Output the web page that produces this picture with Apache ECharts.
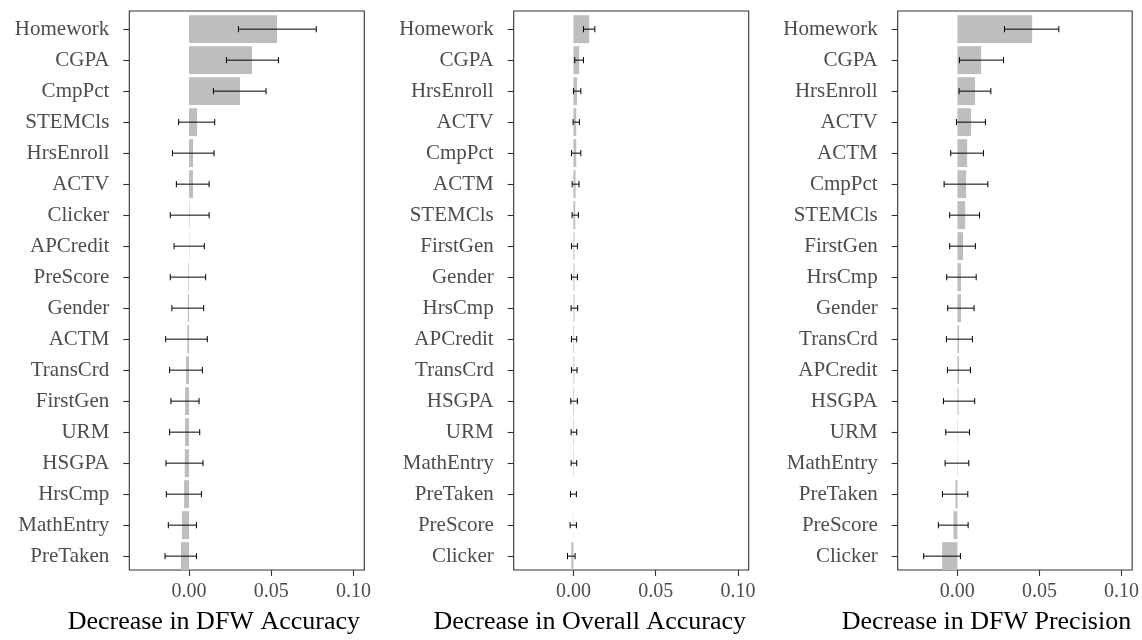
<!DOCTYPE html>
<html>
<head>
<meta charset="utf-8">
<script src="https://cdn.jsdelivr.net/npm/echarts@6/dist/echarts.min.js"></script>
<style>
html,body{margin:0;padding:0;background:#fff;}
#chart{width:1142px;height:640px;}
</style>
</head>
<body>
<div id="chart"></div>
<script>
// ---- Data ----
const catsAcc = ["Homework","CGPA","CmpPct","STEMCls","HrsEnroll","ACTV","Clicker","APCredit","PreScore","Gender","ACTM","TransCrd","FirstGen","URM","HSGPA","HrsCmp","MathEntry","PreTaken"];
const valAcc  = [0.0535,0.0383,0.0310,0.0049,0.0024,0.0024,0.0003,0.0002,-0.0004,-0.0007,-0.0010,-0.0018,-0.0024,-0.0024,-0.0026,-0.0030,-0.0043,-0.0049];
const loAcc   = [0.0300,0.0227,0.0148,-0.0063,-0.0101,-0.0077,-0.0114,-0.0091,-0.0114,-0.0104,-0.0142,-0.0118,-0.0110,-0.0118,-0.0140,-0.0138,-0.0126,-0.0146];
const hiAcc   = [0.0773,0.0543,0.0468,0.0156,0.0152,0.0122,0.0122,0.0093,0.0101,0.0089,0.0111,0.0081,0.0061,0.0065,0.0085,0.0075,0.0045,0.0045];

const catsOvr = ["Homework","CGPA","HrsEnroll","ACTV","CmpPct","ACTM","STEMCls","FirstGen","Gender","HrsCmp","APCredit","TransCrd","HSGPA","URM","MathEntry","PreTaken","PreScore","Clicker"];
const valOvr  = [0.0096,0.0035,0.0022,0.0017,0.0017,0.0013,0.0011,0.0006,0.0006,0.0006,0.0004,0.0005,0.0004,0.0003,0.0003,0.0000,-0.0001,-0.0013];
const loOvr   = [0.0061,0.0008,0.0000,-0.0002,-0.0012,-0.0008,-0.0008,-0.0012,-0.0012,-0.0014,-0.0012,-0.0012,-0.0016,-0.0014,-0.0014,-0.0018,-0.0020,-0.0036];
const hiOvr   = [0.0130,0.0061,0.0045,0.0036,0.0045,0.0034,0.0030,0.0024,0.0024,0.0026,0.0020,0.0022,0.0024,0.0020,0.0020,0.0018,0.0018,0.0010];

const catsPrec = ["Homework","CGPA","HrsEnroll","ACTV","ACTM","CmpPct","STEMCls","FirstGen","HrsCmp","Gender","TransCrd","APCredit","HSGPA","URM","MathEntry","PreTaken","PreScore","Clicker"];
const valPrec  = [0.0454,0.0144,0.0107,0.0083,0.0059,0.0053,0.0047,0.0034,0.0022,0.0022,0.0010,0.0010,0.0006,0.0002,-0.0002,-0.0012,-0.0024,-0.0093];
const loPrec   = [0.0286,0.0012,0.0010,-0.0006,-0.0041,-0.0081,-0.0047,-0.0047,-0.0065,-0.0059,-0.0067,-0.0061,-0.0085,-0.0071,-0.0075,-0.0091,-0.0116,-0.0205];
const hiPrec   = [0.0616,0.0280,0.0203,0.0170,0.0158,0.0185,0.0134,0.0109,0.0114,0.0101,0.0091,0.0079,0.0105,0.0073,0.0069,0.0063,0.0065,0.0018];

const xTicks = [0, 0.05, 0.10];
const titles = ["Decrease in DFW Accuracy","Decrease in Overall Accuracy","Decrease in DFW Precision"];

// ---- Layout / style ----
const X_MIN = -0.0363, X_MAX = 0.1065;
const panelLeft = [129.3, 513.7, 897.7];
const panelWidth = 235;
const frameTop = 11, frameHeight = 563.3;
const band = 31, nCat = 18;
const dataHeight = band * nCat;
const dataTop = frameTop + (frameHeight - dataHeight) / 2;
const titleShift = [66, 83, 57];
const FONT = "Liberation Serif";

const panels = [
  {cats: catsAcc, val: valAcc, lo: loAcc, hi: hiAcc},
  {cats: catsOvr, val: valOvr, lo: loOvr, hi: hiOvr},
  {cats: catsPrec, val: valPrec, lo: loPrec, hi: hiPrec}
];

function renderErr(params, api) {
  const y = api.value(2);
  const p1 = api.coord([api.value(0), y]);
  const p2 = api.coord([api.value(1), y]);
  const sz = api.size([0, 1]);
  const h = (sz && sz[1] ? sz[1] * 0.1 : 3.1);
  const style = {stroke: '#000', lineWidth: 1};
  return {type: 'group', children: [
    {type: 'line', shape: {x1: p1[0], y1: p1[1], x2: p2[0], y2: p2[1]}, style: style},
    {type: 'line', shape: {x1: p1[0], y1: p1[1] - h, x2: p1[0], y2: p1[1] + h}, style: style},
    {type: 'line', shape: {x1: p2[0], y1: p2[1] - h, x2: p2[0], y2: p2[1] + h}, style: style}
  ]};
}

const grid = [], xAxis = [], yAxis = [], series = [];
panels.forEach((p, k) => {
  const gf = grid.length;
  grid.push({left: panelLeft[k], top: frameTop, width: panelWidth, height: frameHeight,
    show: true, borderColor: '#333333', borderWidth: 1.1, backgroundColor: 'transparent', containLabel: false});
  const gd = grid.length;
  grid.push({left: panelLeft[k], top: dataTop, width: panelWidth, height: dataHeight, containLabel: false});

  // frame axes
  xAxis.push({type: 'value', gridIndex: gf, min: X_MIN, max: X_MAX,
    axisLine: {show: false, onZero: false},
    splitLine: {show: false},
    axisTick: {show: true, length: 6, customValues: xTicks, lineStyle: {color: '#333333', width: 1.1}},
    axisLabel: {show: true, customValues: xTicks, formatter: v => v.toFixed(2), margin: 12,
      color: '#4D4D4D', fontSize: 20, fontFamily: FONT},
    name: titles[k], nameLocation: 'middle', nameGap: 39,
    nameTextStyle: {color: '#000', fontSize: 26, fontFamily: FONT, padding: [0, titleShift[k], 0, 0]}
  });
  yAxis.push({type: 'value', gridIndex: gf, min: 0, max: 1, show: false});

  // data axes
  xAxis.push({type: 'value', gridIndex: gd, min: X_MIN, max: X_MAX, show: false, splitLine: {show: false}});
  yAxis.push({type: 'category', gridIndex: gd, data: p.cats, inverse: true, position: 'left',
    axisLine: {show: false, onZero: false},
    axisTick: {show: true, alignWithLabel: true, length: 6, lineStyle: {color: '#333333', width: 1.1}},
    axisLabel: {margin: 20, color: '#4D4D4D', fontSize: 21, fontFamily: FONT},
    splitLine: {show: false}
  });

  const xi = xAxis.length - 1, yi = yAxis.length - 1;
  series.push({type: 'bar', xAxisIndex: xi, yAxisIndex: yi, data: p.val,
    barWidth: '90%', itemStyle: {color: '#BEBEBE'}, silent: true, animation: false});
  series.push({type: 'custom', xAxisIndex: xi, yAxisIndex: yi,
    data: p.lo.map((l, i) => [l, p.hi[i], i]),
    encode: {x: [0, 1], y: 2}, renderItem: renderErr, z: 5, silent: true, animation: false});
});

const chart = echarts.init(document.getElementById('chart'), null, {renderer: 'canvas'});
chart.setOption({backgroundColor: '#ffffff', animation: false, grid, xAxis, yAxis, series});
</script>
</body>
</html>
